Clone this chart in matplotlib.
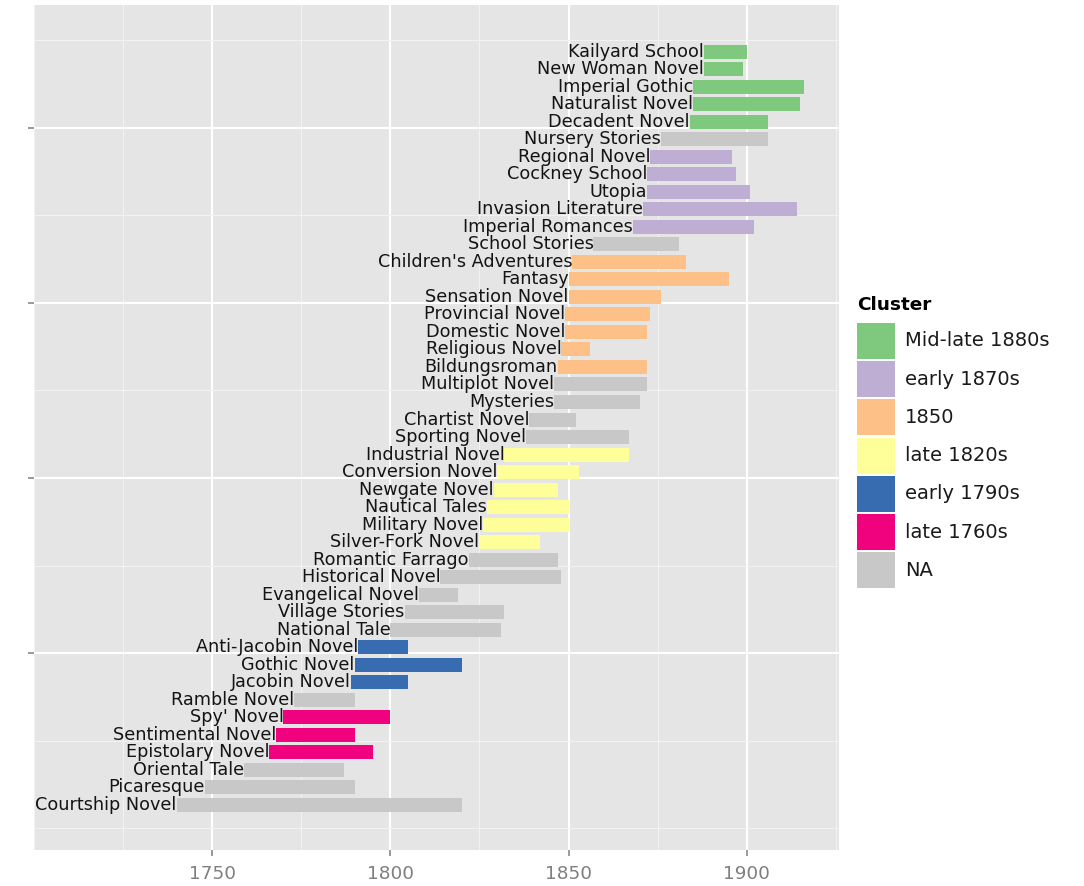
import matplotlib
matplotlib.use("Agg")
import matplotlib.pyplot as plt
from matplotlib.patches import Rectangle

plt.rcParams['font.family'] = ['DejaVu Sans']

# ---------------- data (bottom to top) ----------------
genres = ["Courtship Novel", "Picaresque", "Oriental Tale", "Epistolary Novel",
          "Sentimental Novel", "Spy' Novel", "Ramble Novel", "Jacobin Novel",
          "Gothic Novel", "Anti-Jacobin Novel", "National Tale", "Village Stories",
          "Evangelical Novel", "Historical Novel", "Romantic Farrago",
          "Silver-Fork Novel", "Military Novel", "Nautical Tales", "Newgate Novel",
          "Conversion Novel", "Industrial Novel", "Sporting Novel", "Chartist Novel",
          "Mysteries", "Multiplot Novel", "Bildungsroman", "Religious Novel",
          "Domestic Novel", "Provincial Novel", "Sensation Novel", "Fantasy",
          "Children's Adventures", "School Stories", "Imperial Romances",
          "Invasion Literature", "Utopia", "Cockney School", "Regional Novel",
          "Nursery Stories", "Decadent Novel", "Naturalist Novel", "Imperial Gothic",
          "New Woman Novel", "Kailyard School"]
start_year = [1740, 1748, 1759, 1766, 1768, 1770, 1773, 1789, 1790, 1791, 1800, 1804,
              1808, 1814, 1822, 1825, 1826, 1827, 1829, 1830, 1832, 1838, 1839, 1846,
              1846, 1847, 1848, 1849, 1849, 1850, 1850, 1851, 1857, 1868, 1871, 1872,
              1872, 1873, 1876, 1884, 1885, 1885, 1888, 1888]
end_year = [1820, 1790, 1787, 1795, 1790, 1800, 1790, 1805, 1820, 1805, 1831, 1832,
            1819, 1848, 1847, 1842, 1850, 1850, 1847, 1853, 1867, 1867, 1852, 1870,
            1872, 1872, 1856, 1872, 1873, 1876, 1895, 1883, 1881, 1902, 1914, 1901,
            1897, 1896, 1906, 1906, 1915, 1916, 1899, 1900]
cluster = ["NA", "NA", "NA", "late 1760s", "late 1760s", "late 1760s", "NA",
           "early 1790s", "early 1790s", "early 1790s", "NA", "NA", "NA", "NA", "NA",
           "late 1820s", "late 1820s", "late 1820s", "late 1820s", "late 1820s",
           "late 1820s", "NA", "NA", "NA", "NA", "1850", "1850", "1850", "1850",
           "1850", "1850", "1850", "NA", "early 1870s", "early 1870s", "early 1870s",
           "early 1870s", "early 1870s", "NA", "Mid-late 1880s", "Mid-late 1880s",
           "Mid-late 1880s", "Mid-late 1880s", "Mid-late 1880s"]

legend_labels = ["Mid-late 1880s", "early 1870s", "1850", "late 1820s",
                 "early 1790s", "late 1760s", "NA"]
legend_colors = ["#7FC97F", "#BEAED4", "#FDC086", "#FFFF99", "#386CB0", "#F0027F",
                 "#C8C8C8"]
color_map = dict(zip(legend_labels, legend_colors))

x_ticks = [1750, 1800, 1850, 1900]
x_minor = [1700, 1725, 1775, 1825, 1875, 1925]
y_major = [9.66, 19.66, 29.66, 39.66]
y_minor = [-0.34, 4.66, 14.66, 24.66, 34.66, 44.66]

# ---------------- figure ----------------
W, H = 1084, 886
fig = plt.figure(figsize=(W / 100, H / 100), dpi=100)
fig.patch.set_facecolor("white")

left, right, top, bottom = 34, 839, 5, 850
ax = fig.add_axes([left / W, 1 - bottom / H, (right - left) / W, (bottom - top) / H])
ax.set_facecolor("#E5E5E5")

ypos = list(range(1, len(genres) + 1))
widths = [e - s for s, e in zip(start_year, end_year)]
colors = [color_map[c] for c in cluster]
ax.barh(ypos, widths, left=start_year, height=0.8, color=colors, zorder=3,
        linewidth=0)

for y, s, g in zip(ypos, start_year, genres):
    ax.text(s, y, g, ha="right", va="center", fontsize=12.7, color="#141414",
            zorder=4)

ax.set_xlim(1700.2, 1925.9)
ax.set_ylim(-1.57, 46.66)

ax.set_xticks(x_ticks)
ax.set_xticks(x_minor, minor=True)
ax.set_yticks(y_major)
ax.set_yticks(y_minor, minor=True)
ax.set_yticklabels([])
ax.set_xticklabels([str(t) for t in x_ticks])

ax.grid(which="major", color="white", linewidth=1.5, zorder=1)
ax.grid(which="minor", color="#F2F2F2", linewidth=0.8, zorder=0.5)
ax.set_axisbelow(True)
for sp in ax.spines.values():
    sp.set_visible(False)
ax.tick_params(which="minor", length=0)
ax.tick_params(which="major", length=4.5, width=1.1, color="#7F7F7F",
               labelcolor="#7F7F7F", labelsize=13.3, pad=6.5)

# ---------------- legend (manual, ggplot-like) ----------------
def fx(x):
    return x / W

def fy(y):
    return 1 - y / H

fig.text(fx(857), fy(305), "Cluster", ha="left", va="center", fontsize=13.3,
         fontweight="bold", color="black")
key_top, key_pitch, key_w, key_h = 323, 38.2, 38, 36
for i, (lab, col) in enumerate(zip(legend_labels, legend_colors)):
    t = key_top + i * key_pitch
    fig.add_artist(Rectangle((fx(857), fy(t + key_h)), key_w / W, key_h / H,
                             transform=fig.transFigure, facecolor=col,
                             edgecolor="none"))
    fig.text(fx(905), fy(t + key_h / 2), lab, ha="left", va="center",
             fontsize=14, color="#1A1A1A")

fig.savefig("out.png", dpi=100)
